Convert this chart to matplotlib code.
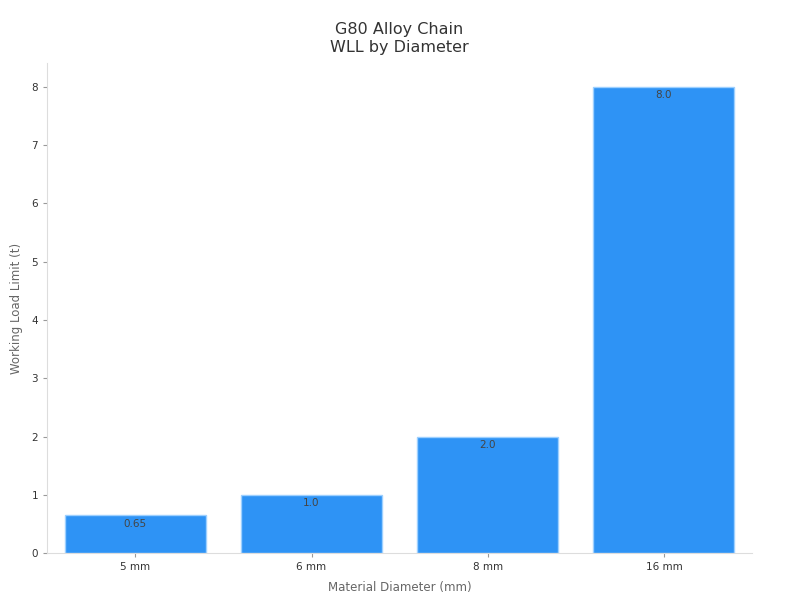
import numpy as np
import matplotlib.pyplot as plt

# data
diameters = ["5 mm", "6 mm", "8 mm", "16 mm"]
wll = [0.65, 1.0, 2.0, 8.0]

fig, ax = plt.subplots(figsize=(8, 6), dpi=100)
fig.subplots_adjust(left=0.059, right=0.94, bottom=0.078, top=0.895)

x = np.arange(len(diameters))
bars = ax.bar(x, wll, width=0.8, color="#2E93F5", edgecolor="#9DD0FF", linewidth=1)

for b, v in zip(bars, wll):
    ax.annotate(f"{v}", (b.get_x() + b.get_width() / 2, v), xytext=(0, -2.5),
                textcoords="offset points", ha="center", va="top",
                fontsize=7.5, color="#444444")

ax.set_xticks(x)
ax.set_xticklabels(diameters)
ax.set_xlim(-0.5, 3.5)
ax.set_ylim(0, 8.41)
ax.set_yticks(range(0, 9))
ax.tick_params(labelsize=7.5, colors="#333333", length=3)
ax.tick_params(color="#999999")

for s in ["top", "right"]:
    ax.spines[s].set_visible(False)
for s in ["left", "bottom"]:
    ax.spines[s].set_color("#DDDDDD")

ax.set_xlabel("Material Diameter (mm)", fontsize=8.5, color="#666666", labelpad=6)
ax.set_ylabel("Working Load Limit (t)", fontsize=8.5, color="#666666", labelpad=6)
ax.set_title("G80 Alloy Chain\nWLL by Diameter", fontsize=11.5, color="#333333", pad=8)

plt.savefig("out.png")
